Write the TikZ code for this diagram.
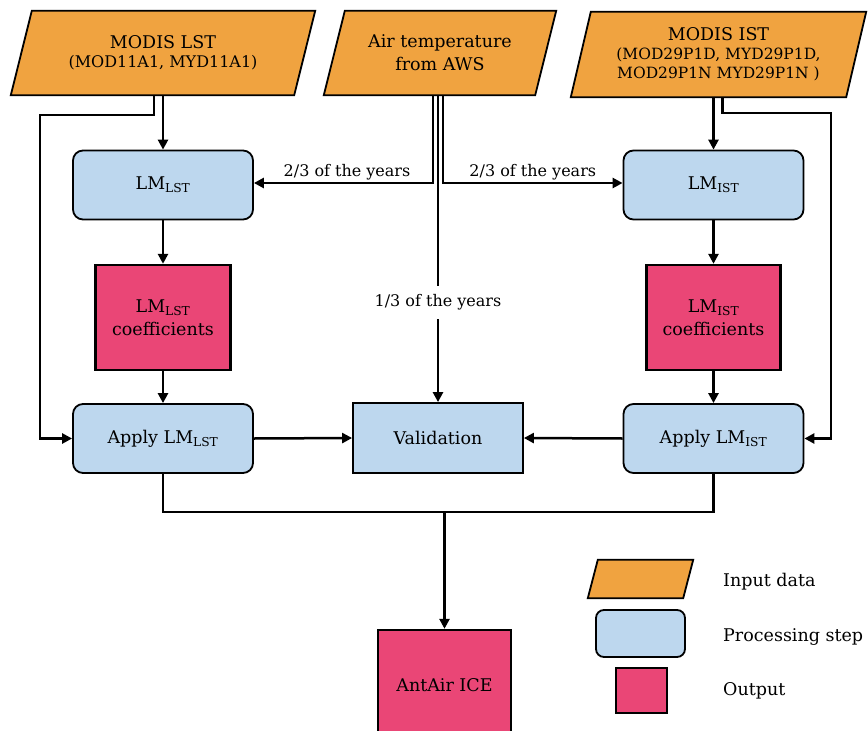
\documentclass[tikz,border=0pt]{standalone}
\usepackage{fontspec}
\setmainfont{DejaVu Serif}
\usetikzlibrary{arrows.meta,backgrounds}
\definecolor{inorange}{RGB}{240,163,64}
\definecolor{procblue}{RGB}{189,215,238}
\definecolor{outpink}{RGB}{234,70,118}
\tikzset{
  base/.style={inner sep=0pt, align=center, font=\fontsize{17.5}{23}\selectfont},
  inbox/.style={base},
  procbox/.style={base, draw=black, line width=1.8pt, fill=procblue, rounded corners=10pt},
  valbox/.style={base, draw=black, line width=1.8pt, fill=procblue},
  outbox/.style={base, draw=black, line width=2.4pt, fill=outpink},
  paraface/.style={fill=inorange, draw=black, line width=1.8pt, line join=miter},
  conn/.style={line width=2.5pt},
  arr/.style={conn, -{Triangle[length=10pt,width=10pt]}},
  lbl/.style={font=\fontsize{16}{19}\selectfont, inner sep=2pt},
  legtext/.style={font=\fontsize{17.5}{21}\selectfont, inner sep=0pt, anchor=west},
}
\newcommand{\smallline}{\fontsize{15.5}{19}\selectfont}
\begin{document}
\begin{tikzpicture}[x=1pt,y=-1pt]
\useasboundingbox (0,0) rectangle (868,731);

% input data
\node[inbox, minimum width=304pt, minimum height=84pt] (lst) at (163,53)
  {MODIS LST\\[-4pt]{\fontsize{16}{19}\selectfont (MOD11A1, MYD11A1)}};
\node[inbox, minimum width=232pt, minimum height=84pt] (aws) at (440,53)
  {Air temperature\\from AWS};
\node[inbox, minimum width=295pt, minimum height=85pt] (ist) at (718.5,54.5)
  {MODIS IST\\[-4pt]{\smallline (MOD29P1D, MYD29P1D,}\\[-4pt]{\smallline MOD29P1N MYD29P1N )}};

% processing / outputs
\node[procbox, minimum width=180pt, minimum height=69pt] (lmlst) at (163,185) {LM\textsubscript{LST}};
\node[procbox, minimum width=180pt, minimum height=69pt] (lmist) at (713.5,185) {LM\textsubscript{IST}};
\node[outbox, minimum width=135pt, minimum height=105pt] (coeflst) at (163,317.5) {LM\textsubscript{LST}\\coefficients};
\node[outbox, minimum width=134pt, minimum height=105pt] (coefist) at (713.5,317.5) {LM\textsubscript{IST}\\coefficients};
\node[procbox, minimum width=180pt, minimum height=69pt] (applst) at (163,438.5) {Apply LM\textsubscript{LST}};
\node[procbox, minimum width=180pt, minimum height=69pt] (appist) at (713.5,438.5) {Apply LM\textsubscript{IST}};
\node[valbox, minimum width=170pt, minimum height=70pt] (val) at (438,438) {Validation};
\node[outbox, minimum width=133pt, minimum height=110pt] (ant) at (444.5,685) {AntAir ICE};

% legend
\node[inbox, minimum width=105pt, minimum height=38pt] (legin) at (640.5,579) {};
\node[procbox, minimum width=89pt, minimum height=47pt, rounded corners=8pt] (legproc) at (640.5,633.5) {};
\node[outbox, minimum width=51pt, minimum height=45pt] (legout) at (641.5,690.5) {};
\node[legtext] (legintxt) at (723,582) {Input data};
\node[legtext] (legproctxt) at (723,637) {Processing step};
\node[legtext] (legouttxt) at (723,691) {Output};

\begin{scope}[on background layer]
\draw[paraface] ([xshift=21pt]lst.north west) -- (lst.north east) -- ([xshift=-21pt]lst.south east) -- (lst.south west) -- cycle;
\draw[paraface] ([xshift=21pt]aws.north west) -- (aws.north east) -- ([xshift=-21pt]aws.south east) -- (aws.south west) -- cycle;
\draw[paraface] ([xshift=20pt]ist.north west) -- (ist.north east) -- ([xshift=-20pt]ist.south east) -- (ist.south west) -- cycle;
\draw[paraface] ([xshift=10pt]legin.north west) -- (legin.north east) -- ([xshift=-10pt]legin.south east) -- (legin.south west) -- cycle;
\end{scope}

% connectors
\coordinate (lstbend) at (40,115);
\coordinate (istbend) at (831,113);
\coordinate (join) at (444.5,512);

\draw[arr] (lmlst.north |- lst.south) -- (lmlst.north);
\draw[arr] ([xshift=-9pt]lmlst.north |- lst.south) |- (lstbend) |- (applst.west);
\draw[arr] (lmist.north |- ist.south) -- (lmist.north);
\draw[arr] ([xshift=9pt]lmist.north |- ist.south) |- (istbend) |- (appist.east);

\draw[arr] ([xshift=-5pt]val.north |- aws.south) |- node[lbl, above, pos=0.74] (lblleft) {2/3 of the years} ([yshift=2pt]lmlst.east);
\draw[arr] ([xshift=5pt]val.north |- aws.south) |- node[lbl, above, pos=0.75] (lblright) {2/3 of the years} ([yshift=2pt]lmist.west);
\draw[arr] (val.north |- aws.south) -- node[lbl, fill=white, pos=0.675, inner ysep=9pt] (lblmid) {1/3 of the years} (val.north);

\draw[arr] (lmlst.south) -- (coeflst.north);
\draw[arr] (coeflst.south) -- (applst.north);
\draw[arr] (lmist.south) -- (coefist.north);
\draw[arr] (coefist.south) -- (appist.north);
\draw[arr] (applst.east) -- (val.west);
\draw[arr] (appist.west) -- (val.east);

\draw[conn] (applst.south) |- (join -| appist.south) -- (appist.south);
\draw[arr] (join) -- (ant.north);
\end{tikzpicture}
\end{document}
